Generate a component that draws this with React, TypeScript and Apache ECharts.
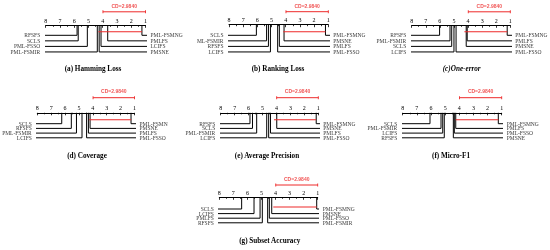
import React, { useEffect, useRef } from "react";
import * as echarts from "echarts";

// ---------- data ----------
const CD = 2.984;
const cdLabel = "CD=2.9840";

const panelTitles = [
  "(a) Hamming Loss",
  "(b) Ranking Loss",
  "(c)One-error",
  "(d) Coverage",
  "(e) Average Precision",
  "(f) Micro-F1",
  "(g) Subset Accuracy",
];

const leftNamesA = ["RFSFS", "SCLS", "PML-FSSO", "PML-FSMIR"];
const leftRanksA = [5.8, 5.72, 5.08, 4.38];
const rightNamesA = ["PML-FSMNG", "PMLFS", "LCIFS", "PMSNE"];
const rightRanksA = [1.25, 3.65, 4.12, 4.25];
const cliqueA = [1.25, 4.3];

const leftNamesB = ["SCLS", "ML-FSMIR", "RFSFS", "LCIFS"];
const leftRanksB = [6.07, 5.35, 5.22, 5.08];
const rightNamesB = ["PML-FSMNG", "PMSNE", "PMLFS", "PML-FSSO"];
const rightRanksB = [1.2, 4.12, 4.45, 4.57];
const cliqueB = [1.2, 4.17];

const leftNamesC = ["RFSFS", "PML-FSMIR", "SCLS", "LCIFS"];
const leftRanksC = [6.02, 5.28, 5.16, 5.0];
const rightNamesC = ["PML-FSMNG", "PMLFS", "PMSNE", "PML-FSSO"];
const rightRanksC = [1.22, 4.06, 4.13, 4.85];
const cliqueC = [1.22, 4.26];

const leftNamesD = ["SCLS", "RFSFS", "PML-FSMIR", "LCIFS"];
const leftRanksD = [6.24, 5.55, 5.18, 4.78];
const rightNamesD = ["PML-FSMN", "PMSNE", "PMLFS", "PML-FSSO"];
const rightRanksD = [1.25, 4.2, 4.32, 4.45];
const cliqueD = [1.24, 4.27];

const leftNamesE = ["RFSFS", "SCLS", "PML-FSMIR", "LCIFS"];
const leftRanksE = [5.9, 5.72, 5.42, 4.7];
const rightNamesE = ["PML-FSMNG", "PMSNE", "PMLFS", "PML-FSSO"];
const rightRanksE = [1.15, 3.98, 4.43, 4.56];
const cliqueE = [1.16, 4.18];

const leftNamesF = ["SCLS", "PML-FSMIR", "LCIFS", "RFSFS"];
const leftRanksF = [6.07, 5.29, 5.17, 5.06];
const rightNamesF = ["PML-FSMNG", "PMLFS", "PML-FSSO", "PMSNE"];
const rightRanksF = [1.24, 4.25, 4.35, 4.42];
const cliqueF = [1.24, 4.25];

const leftNamesG = ["SCLS", "LCIFS", "PMLFS", "RFSFS"];
const leftRanksG = [6.41, 5.53, 5.1, 4.94];
const rightNamesG = ["PML-FSMNG", "PMSNE", "PML-FSSO", "PML-FSMIR"];
const rightRanksG = [1.07, 4.27, 4.44, 4.56];
const cliqueG = [1.07, 4.16];

const panels = [
  { ln: leftNamesA, lr: leftRanksA, rn: rightNamesA, rr: rightRanksA, clique: cliqueA },
  { ln: leftNamesB, lr: leftRanksB, rn: rightNamesB, rr: rightRanksB, clique: cliqueB },
  { ln: leftNamesC, lr: leftRanksC, rn: rightNamesC, rr: rightRanksC, clique: cliqueC },
  { ln: leftNamesD, lr: leftRanksD, rn: rightNamesD, rr: rightRanksD, clique: cliqueD },
  { ln: leftNamesE, lr: leftRanksE, rn: rightNamesE, rr: rightRanksE, clique: cliqueE },
  { ln: leftNamesF, lr: leftRanksF, rn: rightNamesF, rr: rightRanksF, clique: cliqueF },
  { ln: leftNamesG, lr: leftRanksG, rn: rightNamesG, rr: rightRanksG, clique: cliqueG },
];

// ---------- layout (pixels) ----------
const layout = [
  { x8: 45.7, x1: 145.5, axisY: 25.3, row0: 35.3, gap: 5.55, cliqueY: 31.7, cdY: 11.8, cdTextY: 6, tx: 93, ty: 69 },
  { x8: 229, x1: 328.3, axisY: 24.7, row0: 35.3, gap: 5.55, cliqueY: 31.7, cdY: 11.7, cdTextY: 6, tx: 278, ty: 69 },
  { x8: 411.7, x1: 510.3, axisY: 25.3, row0: 35.3, gap: 5.55, cliqueY: 31.7, cdY: 11.8, cdTextY: 6, tx: 461.7, ty: 69 },
  { x8: 37.3, x1: 134.5, axisY: 112.8, row0: 123.7, gap: 4.7, cliqueY: 119.8, cdY: 97.7, cdTextY: 91.3, tx: 87, ty: 155.7 },
  { x8: 220.7, x1: 318.3, axisY: 112.8, row0: 123.7, gap: 4.7, cliqueY: 119.8, cdY: 97.7, cdTextY: 91.3, tx: 267, ty: 155.7 },
  { x8: 402.7, x1: 501.7, axisY: 112.8, row0: 123.7, gap: 4.7, cliqueY: 119.8, cdY: 97.7, cdTextY: 91.3, tx: 451, ty: 155.7 },
  { x8: 219.3, x1: 317.7, axisY: 197.3, row0: 209, gap: 4.6, cliqueY: 207, cdY: 185, cdTextY: 179.3, tx: 269.7, ty: 241 },
];

const SERIF = "Liberation Serif";
const SANS = "Liberation Sans";
const RED = "#ee2a2a";
const BLACK = "#000";
const GRID_H = 40;

function buildOption() {
  const grid: any[] = [];
  const xAxis: any[] = [];
  const yAxis: any[] = [];
  const series: any[] = [];
  const graphic: any[] = [];

  panels.forEach((p, i) => {
    const L = layout[i];
    const pxPerRank = (L.x1 - L.x8) / 7;
    const armL = 8 + 4 / pxPerRank;
    const armR = 1 - 3.5 / pxPerRank;
    grid.push({ left: L.x8, top: L.axisY, width: L.x1 - L.x8, height: GRID_H, containLabel: false });
    xAxis.push({
      type: "value",
      gridIndex: i,
      min: 1,
      max: 8,
      interval: 1,
      inverse: true,
      position: "top",
      axisLine: { show: true, lineStyle: { color: BLACK, width: 1 } },
      axisTick: { show: true, inside: true, length: 2.5, lineStyle: { color: BLACK, width: 0.8 } },
      minorTick: { show: true, splitNumber: 2, length: 1.5, lineStyle: { color: BLACK, width: 0.8 } },
      splitLine: { show: false },
      axisLabel: { fontSize: 6, fontFamily: SERIF, color: BLACK, margin: 1.5 },
    });
    yAxis.push({ type: "value", gridIndex: i, min: 0, max: GRID_H, inverse: true, show: false });

    const common = { xAxisIndex: i, yAxisIndex: i, clip: false, silent: true, animation: false };

    const addSide = (names: string[], ranks: number[], arm: number, side: "left" | "right") => {
      names.forEach((n, j) => {
        const y = L.row0 + L.gap * j - L.axisY;
        series.push({
          ...common,
          type: "line",
          symbol: "none",
          color: BLACK,
          lineStyle: { color: BLACK, width: 1 },
          data: [[ranks[j], 0], [ranks[j], y], [arm, y]],
        });
      });
      series.push({
        ...common,
        type: "scatter",
        symbolSize: 0.01,
        color: BLACK,
        itemStyle: { color: BLACK },
        label: {
          show: true,
          position: side,
          distance: 1.5,
          formatter: "{b}",
          fontSize: 5.5,
          fontFamily: SERIF,
          color: BLACK,
        },
        data: names.map((n, j) => ({ name: n, value: [arm, L.row0 + L.gap * j - L.axisY] })),
      });
    };
    addSide(p.ln, p.lr, armL, "left");
    addSide(p.rn, p.rr, armR, "right");

    // CD bar
    series.push({
      ...common,
      type: "line",
      symbol: "rect",
      symbolSize: [0.9, 3],
      showSymbol: true,
      color: RED,
      itemStyle: { color: RED },
      lineStyle: { color: RED, width: 1 },
      data: [[1, L.cdY - L.axisY], [1 + CD, L.cdY - L.axisY]],
    });
    series.push({
      ...common,
      type: "scatter",
      symbolSize: 0.01,
      color: RED,
      itemStyle: { color: RED },
      label: {
        show: true,
        position: "inside",
        formatter: cdLabel,
        fontSize: 5,
        fontFamily: SANS,
        fontWeight: "bold",
        color: RED,
      },
      data: [{ name: cdLabel, value: [1 + CD / 2, L.cdTextY - L.axisY] }],
    });
    // clique bar
    series.push({
      ...common,
      type: "line",
      symbol: "none",
      color: RED,
      lineStyle: { color: RED, width: 1.1 },
      data: [[p.clique[0], L.cliqueY - L.axisY], [p.clique[1], L.cliqueY - L.axisY]],
    });

    graphic.push({
      type: "text",
      x: L.tx,
      y: L.ty,
      silent: true,
      style: {
        text: panelTitles[i],
        fontSize: 7.2,
        fontFamily: SERIF,
        fontWeight: "bold",
        fontStyle: i === 2 ? "italic" : "normal",
        fill: BLACK,
        align: "center",
        verticalAlign: "middle",
      },
    });
  });

  return { animation: false, backgroundColor: "transparent", grid, xAxis, yAxis, series, graphic };
}

export default function App() {
  const ref = useRef<HTMLDivElement>(null);
  useEffect(() => {
    if (!ref.current) return;
    const chart = echarts.init(ref.current, undefined, { renderer: "svg" });
    chart.setOption(buildOption());
    return () => chart.dispose();
  }, []);
  return (
    <div
      ref={ref}
      style={{
        position: "fixed",
        left: 0,
        top: 0,
        width: 550,
        height: 250,
        willChange: "transform",
        WebkitFontSmoothing: "antialiased",
      } as any}
    />
  );
}
